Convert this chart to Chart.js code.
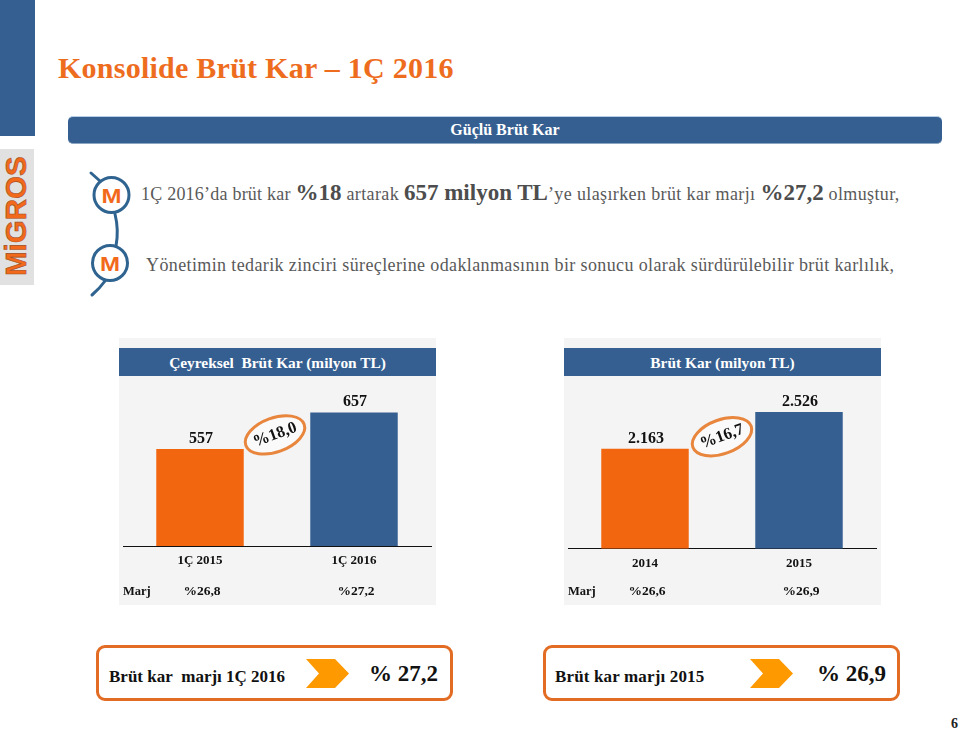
<!DOCTYPE html>
<html lang="tr">
<head>
<meta charset="utf-8">
<title>Konsolide Brüt Kar</title>
<script src="https://cdn.jsdelivr.net/npm/chart.js@4"></script>
<style>
html, body { margin: 0; padding: 0; background: #fff; }
#slide { position: relative; width: 960px; height: 729px; overflow: hidden; font-family: "Liberation Serif", serif; }
#slide > * { position: absolute; white-space: nowrap; }
.side { left: 0; top: 0; width: 35px; height: 136px; background: #365f91; }
.logoBox { left: 0; top: 149px; width: 34px; height: 136px; background: #e1e1e1; }
.logoText { left: -41px; top: 200px; width: 116px; height: 36px; line-height: 36px; text-align: center; transform: rotate(-90deg);
  font: bold 29.5px "Liberation Sans", sans-serif; color: #f2691b; -webkit-text-stroke: 0.6px #a04c20; }
.title { left: 58px; top: 49px; font-size: 30px; line-height: 38px; font-weight: bold; color: #ee6c1e; letter-spacing: 0.25px; }
.strip { left: 68px; top: 116px; width: 874px; height: 26px; border-radius: 5px; background: #365f91; border-top: 1px solid #b8d0e6; border-bottom: 1px solid #8aa6c0;
  color: #fff; font-weight: bold; font-size: 16px; line-height: 26px; text-align: center; }
.line { color: #595959; font-size: 18px; line-height: 28px; letter-spacing: 0.38px; }
.line b { font-size: 23px; color: #4d4d4d; letter-spacing: 0; }
.panel { background: #f4f4f4; width: 317px; height: 267px; top: 338px; }
.panelHead { background: #365f91; width: 317px; height: 28px; top: 348px; color: #fff; font-weight: bold; font-size: 15.4px; line-height: 29px; text-align: center; }
canvas { position: absolute; top: 377px; }
.box { top: 645px; width: 351px; height: 50px; border: 3.5px solid #e36c24; border-radius: 9px; background: #fff; }
.boxText { top: 663px; font-weight: bold; font-size: 17px; line-height: 28px; color: #111; }
.boxVal { top: 658px; font-weight: bold; font-size: 23px; line-height: 32px; color: #111; }
.page { left: 951px; top: 716px; font-weight: bold; font-size: 14px; line-height: 16px; color: #222; }
</style>
</head>
<body>
<div id="slide">
  <div class="side"></div>
  <div class="logoBox"></div>
  <div class="logoText">MiGROS</div>
  <div class="title">Konsolide Brüt Kar – 1Ç 2016</div>
  <div class="strip">Güçlü Brüt Kar</div>

  <svg style="left:80px;top:165px" width="60" height="140" viewBox="80 165 60 140">
    <g fill="none" stroke="#2f6390" stroke-width="3" stroke-linecap="round">
      <path d="M91 173 L100 181"/>
      <path d="M115 214 Q119 230 116 246"/>
      <path d="M105 281 Q100 288 92 295"/>
      <circle cx="111.5" cy="195" r="17.5" fill="#fff"/>
      <circle cx="110" cy="263" r="17.5" fill="#fff"/>
    </g>
    <g fill="#f2691b" font-family="Liberation Sans" font-weight="bold" font-size="21" text-anchor="middle">
      <text x="111.5" y="203" textLength="20" lengthAdjust="spacingAndGlyphs">M</text>
      <text x="110" y="271" textLength="20" lengthAdjust="spacingAndGlyphs">M</text>
    </g>
  </svg>

  <div class="line" style="left:141px;top:179px"><span style="letter-spacing:0.22px">1Ç 2016’da brüt kar</span> <b>%18</b> artarak <b>657 milyon TL</b>’ye ulaşırken brüt kar marjı <b>%27,2</b> olmuştur,</div>
  <div class="line" style="left:146px;top:251px">Yönetimin tedarik zinciri süreçlerine odaklanmasının bir sonucu olarak sürdürülebilir brüt karlılık,</div>

  <div class="panel" style="left:119px"></div>
  <div class="panel" style="left:564px"></div>
  <div class="panelHead" style="left:119px">Çeyreksel&nbsp; Brüt Kar (milyon TL)</div>
  <div class="panelHead" style="left:564px">Brüt Kar (milyon TL)</div>
  <canvas id="quarterChart" width="317" height="228" style="left:119px"></canvas>
  <canvas id="yearChart" width="317" height="228" style="left:564px"></canvas>

  <div class="box" style="left:96px"></div>
  <div class="box" style="left:543px"></div>
  <svg style="left:300px;top:655px" width="60" height="38" viewBox="300 655 60 38"><polygon points="306,659 335,659 349,673.5 335,688 306,688 319,673.5" fill="#ff9900"/></svg>
  <svg style="left:745px;top:655px" width="60" height="38" viewBox="745 655 60 38"><polygon points="750,659 779,659 793,673.5 779,688 750,688 763,673.5" fill="#ff9900"/></svg>
  <div class="boxText" style="left:109px">Brüt kar&nbsp; marjı 1Ç 2016</div>
  <div class="boxVal" style="left:369px">% 27,2</div>
  <div class="boxText" style="left:555px;letter-spacing:0.15px">Brüt kar marjı 2015</div>
  <div class="boxVal" style="left:817px">% 26,9</div>
  <div class="page">6</div>
</div>

<script>
const quarterLabels = ['1Ç 2015', '1Ç 2016'];
const quarterValues = [557, 657];
const quarterMargins = ['%26,8', '%27,2'];
const quarterGrowth = '%18,0';

const yearLabels = ['2014', '2015'];
const yearValues = [2163, 2526];
const yearMargins = ['%26,6', '%26,9'];
const yearGrowth = '%16,7';

const barColors = ['#f2660f', '#365f91'];
const serif = '"Liberation Serif", serif';

// value labels, margin row and the growth ellipse
const barNotes = {
    id: 'barNotes',
    afterDatasetsDraw(chart, args, opts) {
        const ctx = chart.ctx;
        const bars = chart.getDatasetMeta(0).data;
        const xScale = chart.scales.x;
        ctx.save();
        ctx.textAlign = 'center';
        ctx.textBaseline = 'alphabetic';
        ctx.fillStyle = '#111';

        ctx.font = 'bold 16px ' + serif;
        bars.forEach((bar, i) => {
            ctx.fillText(opts.values[i].toLocaleString('tr-TR'), bar.x + 1, bar.y - 6);
        });

        ctx.font = 'bold 13.5px ' + serif;
        opts.margins.forEach((m, i) => {
            ctx.fillText(m, xScale.getPixelForTick(i) + 2, 218);
        });
        ctx.font = 'bold 12.5px ' + serif;
        ctx.textAlign = 'left';
        ctx.fillText('Marj', 4, 218);

        // growth badge sits between the two bars
        const cx = (bars[0].x + bars[1].x) / 2 + opts.badgeShift;
        const cy = bars[0].y - opts.badgeUp;
        ctx.translate(cx, cy);
        ctx.rotate(-20 * Math.PI / 180);
        ctx.beginPath();
        ctx.ellipse(0, 0, 31, 17, 0, 0, Math.PI * 2);
        ctx.fillStyle = '#fafafa';
        ctx.fill();
        ctx.lineWidth = 3;
        ctx.strokeStyle = '#e8863e';
        ctx.stroke();
        ctx.fillStyle = '#111';
        ctx.textAlign = 'center';
        ctx.textBaseline = 'middle';
        ctx.font = 'bold 16.5px ' + serif;
        ctx.fillText(opts.growth, 0, 0);
        ctx.restore();
    }
};

function makeChart(id, labels, values, margins, growth, yMin, yMax, axisRoom, badgeUp, badgeShift) {
    new Chart(document.getElementById(id).getContext('2d'), {
        type: 'bar',
        data: {
            labels: labels,
            datasets: [{
                data: values,
                backgroundColor: barColors,
                categoryPercentage: 1,
                barPercentage: 0.568
            }]
        },
        options: {
            responsive: false,
            animation: false,
            layout: { padding: { left: 4, right: 5, top: 0, bottom: 0 } },
            scales: {
                x: {
                    grid: { display: false },
                    border: { display: true, color: '#111', width: 1 },
                    ticks: { color: '#111', padding: -1, maxRotation: 0, font: { family: serif, weight: 'bold', size: 13 } },
                    afterFit(scale) { scale.height = axisRoom; }
                },
                y: { display: false, min: yMin, max: yMax }
            },
            plugins: {
                legend: { display: false },
                tooltip: { enabled: false },
                barNotes: { values: values, margins: margins, growth: growth, badgeUp: badgeUp, badgeShift: badgeShift }
            }
        },
        plugins: [barNotes]
    });
}

makeChart('quarterChart', quarterLabels, quarterValues, quarterMargins, quarterGrowth, 291, 754, 59, 14, -2);
makeChart('yearChart', yearLabels, yearValues, yearMargins, yearGrowth, 1176, 2872, 56.5, 12, 0);
</script>
</body>
</html>
